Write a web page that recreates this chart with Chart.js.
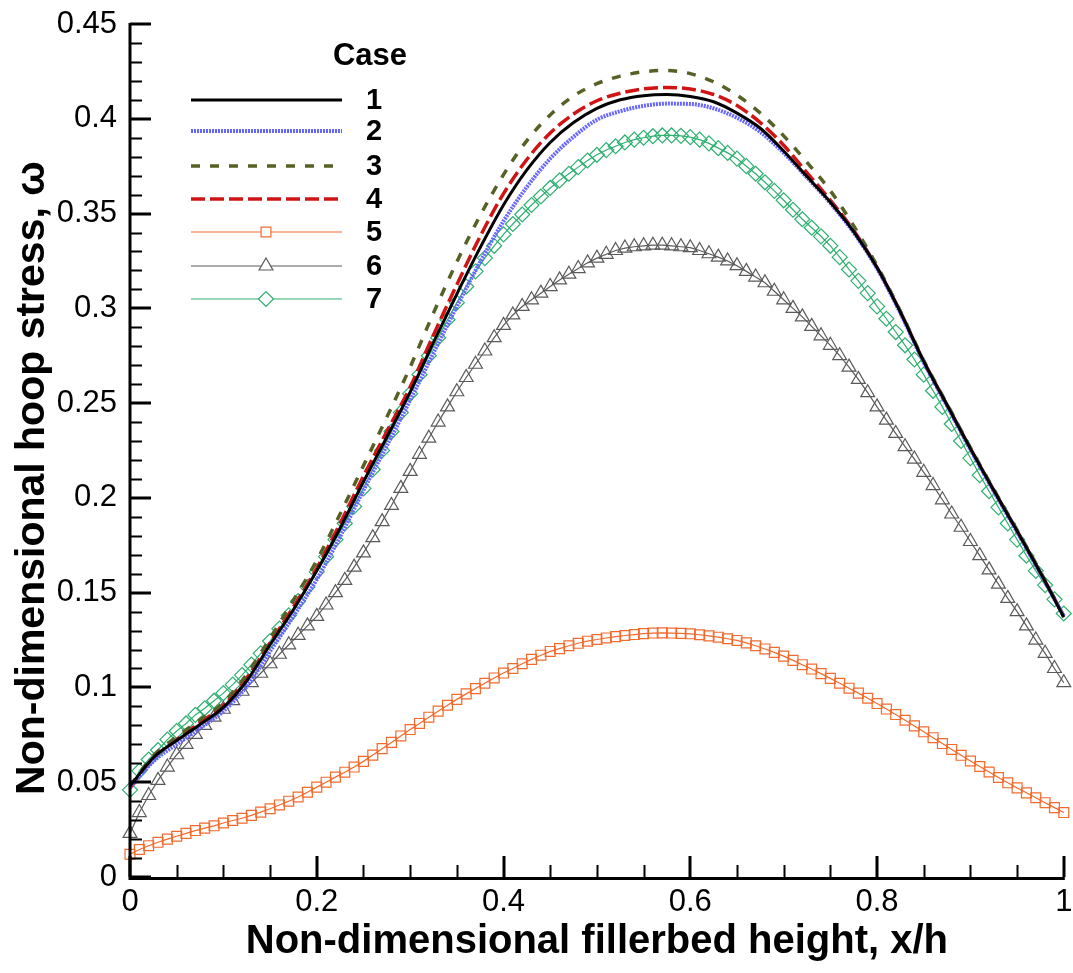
<!DOCTYPE html>
<html>
<head>
<meta charset="utf-8">
<script src="https://cdn.jsdelivr.net/npm/chart.js@4.4.0/dist/chart.umd.min.js"></script>
<style>
  html, body { margin: 0; padding: 0; background: #fff; }
  #wrap { width: 1073px; height: 973px; }
</style>
</head>
<body>
<div id="wrap"><canvas id="hoopStress"></canvas></div>
<script>
// x/h stations for the plain line cases
const xLine = [0, 0.025, 0.05, 0.075, 0.1, 0.125, 0.15, 0.175, 0.2, 0.225, 0.25, 0.275, 0.3, 0.325, 0.35, 0.375, 0.4, 0.425, 0.45, 0.475, 0.5,
  0.525, 0.55, 0.575, 0.6, 0.625, 0.65, 0.675, 0.7, 0.725, 0.75, 0.775, 0.8, 0.825, 0.85, 0.875, 0.9, 0.925, 0.95, 0.975, 1];

// x/h stations for the cases drawn with symbols
const xMark = [0, 0.01, 0.02, 0.03, 0.04, 0.05, 0.06, 0.07, 0.08, 0.09, 0.1, 0.11, 0.12, 0.13, 0.14, 0.15, 0.16, 0.17, 0.18, 0.19,
  0.2, 0.21, 0.22, 0.23, 0.24, 0.25, 0.26, 0.27, 0.28, 0.29, 0.3, 0.31, 0.32, 0.33, 0.34, 0.35, 0.36, 0.37, 0.38, 0.39,
  0.4, 0.41, 0.42, 0.43, 0.44, 0.45, 0.46, 0.47, 0.48, 0.49, 0.5, 0.51, 0.52, 0.53, 0.54, 0.55, 0.56, 0.57, 0.58, 0.59,
  0.6, 0.61, 0.62, 0.63, 0.64, 0.65, 0.66, 0.67, 0.68, 0.69, 0.7, 0.71, 0.72, 0.73, 0.74, 0.75, 0.76, 0.77, 0.78, 0.79,
  0.8, 0.81, 0.82, 0.83, 0.84, 0.85, 0.86, 0.87, 0.88, 0.89, 0.9, 0.91, 0.92, 0.93, 0.94, 0.95, 0.96, 0.97, 0.98, 0.99, 1];

const case1 = [0.048, 0.063, 0.072, 0.0805, 0.0895, 0.1035, 0.1225, 0.141, 0.1615, 0.184, 0.2085, 0.232, 0.2558, 0.282, 0.3075, 0.332,
  0.3545, 0.373, 0.3875, 0.398, 0.4055, 0.410, 0.4122, 0.4128, 0.4118, 0.409, 0.403, 0.395, 0.383, 0.3695, 0.356, 0.3405,
  0.3215, 0.298, 0.272, 0.249, 0.226, 0.204, 0.1825, 0.1605, 0.137];

const case2 = [0.047, 0.061, 0.070, 0.0785, 0.0875, 0.1005, 0.119, 0.1375, 0.157, 0.1795, 0.204, 0.2275, 0.2515, 0.2765, 0.301, 0.3245,
  0.346, 0.364, 0.379, 0.3905, 0.3995, 0.404, 0.4068, 0.408, 0.4078, 0.4055, 0.4005, 0.393, 0.382, 0.369, 0.3555, 0.340,
  0.321, 0.2975, 0.2715, 0.2485, 0.2255, 0.2035, 0.182, 0.160, 0.1375];

const case3 = [0.048, 0.064, 0.074, 0.083, 0.092, 0.107, 0.126, 0.146, 0.167, 0.1915, 0.217, 0.2425, 0.269, 0.2975, 0.3245, 0.349,
  0.3705, 0.3885, 0.402, 0.412, 0.4185, 0.4225, 0.4248, 0.4255, 0.4238, 0.4195, 0.4125, 0.403, 0.391, 0.377, 0.362, 0.3435,
  0.3225, 0.2985, 0.2725, 0.2495, 0.2265, 0.2045, 0.183, 0.161, 0.1375];

const case4 = [0.047, 0.0625, 0.0725, 0.0815, 0.0905, 0.105, 0.1235, 0.1425, 0.163, 0.1865, 0.2115, 0.235, 0.2585, 0.286, 0.3125, 0.338,
  0.3605, 0.3785, 0.3925, 0.4025, 0.4095, 0.4135, 0.4158, 0.4165, 0.4157, 0.4128, 0.407, 0.398, 0.386, 0.3715, 0.357, 0.341,
  0.3215, 0.298, 0.272, 0.249, 0.226, 0.204, 0.1825, 0.1605, 0.1375];

const case5 = [0.012, 0.0145, 0.0165, 0.0183, 0.020, 0.0215, 0.023, 0.0245, 0.0258, 0.027, 0.0285, 0.0298, 0.031, 0.0325, 0.0342,
  0.036, 0.038, 0.040, 0.0422, 0.0447, 0.0474, 0.050, 0.0527, 0.0553, 0.058, 0.061, 0.0643, 0.0677, 0.071, 0.0744,
  0.0778, 0.081, 0.0843, 0.0875, 0.0906, 0.0937, 0.0966, 0.0994, 0.1022, 0.105, 0.1076, 0.110, 0.1125, 0.1148, 0.117,
  0.119, 0.1205, 0.122, 0.1233, 0.1244, 0.1253, 0.1261, 0.1268, 0.1274, 0.1279, 0.1284, 0.1287, 0.1288, 0.1287, 0.1285,
  0.1283, 0.1278, 0.1272, 0.1265, 0.1257, 0.1248, 0.1235, 0.122, 0.1203, 0.1185, 0.1165, 0.1143, 0.112, 0.1097, 0.1073,
  0.1048, 0.1022, 0.0996, 0.097, 0.0943, 0.0915, 0.0886, 0.0857, 0.0827, 0.0797, 0.0766, 0.0735, 0.0704, 0.0673, 0.0642,
  0.0612, 0.0583, 0.0554, 0.0525, 0.0497, 0.047, 0.0444, 0.0418, 0.0392, 0.0366, 0.034];

const case6 = [0.023, 0.034, 0.043, 0.051, 0.058, 0.0645, 0.070, 0.0752, 0.080, 0.0843, 0.0885, 0.093, 0.098, 0.1025, 0.1075,
  0.1125, 0.1175, 0.1225, 0.1275, 0.1325, 0.1375, 0.1435, 0.150, 0.1565, 0.1635, 0.171, 0.179, 0.1875, 0.196, 0.205,
  0.214, 0.223, 0.2315, 0.240, 0.248, 0.256, 0.2635, 0.2705, 0.2775, 0.2845, 0.291, 0.2965, 0.301, 0.3045, 0.308,
  0.3115, 0.315, 0.318, 0.321, 0.324, 0.3265, 0.3285, 0.3305, 0.3318, 0.3325, 0.333, 0.3333, 0.3333, 0.333, 0.3325,
  0.332, 0.3305, 0.3288, 0.327, 0.325, 0.3225, 0.3195, 0.3165, 0.3135, 0.309, 0.3045, 0.300, 0.2955, 0.2905, 0.2855,
  0.2805, 0.275, 0.269, 0.2625, 0.2555, 0.248, 0.241, 0.234, 0.227, 0.2205, 0.2135, 0.2065, 0.199, 0.1915, 0.1845,
  0.177, 0.1695, 0.162, 0.1545, 0.147, 0.140, 0.1325, 0.125, 0.118, 0.110, 0.1025];

const case7 = [0.046, 0.056, 0.062, 0.067, 0.0725, 0.077, 0.081, 0.0855, 0.089, 0.093, 0.097, 0.1015, 0.1065, 0.112, 0.118,
  0.1245, 0.131, 0.138, 0.1455, 0.153, 0.161, 0.169, 0.178, 0.1865, 0.1955, 0.205, 0.215, 0.225, 0.235, 0.245,
  0.255, 0.265, 0.275, 0.2845, 0.294, 0.303, 0.3115, 0.3195, 0.3265, 0.333, 0.339, 0.3445, 0.3495, 0.3545, 0.359,
  0.3635, 0.3675, 0.371, 0.3745, 0.378, 0.381, 0.3835, 0.3855, 0.3875, 0.389, 0.390, 0.3908, 0.3912, 0.3912, 0.391,
  0.3903, 0.389, 0.387, 0.3845, 0.382, 0.379, 0.375, 0.371, 0.3665, 0.362, 0.357, 0.352, 0.347, 0.3425, 0.338,
  0.333, 0.327, 0.3205, 0.3145, 0.308, 0.301, 0.2945, 0.2875, 0.2805, 0.273, 0.265, 0.2565, 0.248, 0.239, 0.230,
  0.221, 0.212, 0.2035, 0.195, 0.1865, 0.178, 0.1695, 0.1615, 0.154, 0.1465, 0.139];

const caseLabels = ["1", "2", "3", "4", "5", "6", "7"];

const xTickValues = [0, 0.2, 0.4, 0.6, 0.8, 1];
const xTickLabels = ["0", "0.2", "0.4", "0.6", "0.8", "1"];
const yTickValues = [0, 0.05, 0.1, 0.15, 0.2, 0.25, 0.3, 0.35, 0.4, 0.45];
const yTickLabels = ["0", "0.05", "0.1", "0.15", "0.2", "0.25", "0.3", "0.35", "0.4", "0.45"];

const FONT = "'Liberation Sans', Arial, Helvetica, sans-serif";
const Y_TITLE = "Non-dimensional hoop stress, ω";

function points(xs, ys) {
  return xs.map((x, i) => ({ x: x, y: ys[i] }));
}

function steps(from, to, step, skipEvery) {
  const out = [];
  const n = Math.round((to - from) / step);
  for (let i = 0; i <= n; i++) {
    if (i % skipEvery !== 0) out.push(from + i * step);
  }
  return out;
}

const xMinor = steps(0, 1, 0.05, 4);
const yMinor = steps(0, 0.45, 0.01, 5);

function lineSet(label, xs, ys, color, width, dash) {
  return {
    label: label,
    data: points(xs, ys),
    showLine: true,
    borderColor: color,
    borderWidth: width,
    borderDash: dash,
    pointRadius: 0,
    cubicInterpolationMode: "monotone",
    clip: false
  };
}

function markSet(label, xs, ys, color, style, radius) {
  return {
    label: label,
    data: points(xs, ys),
    showLine: true,
    borderColor: color,
    borderWidth: 1.2,
    borderDash: [],
    pointStyle: style,
    pointRadius: radius,
    pointBorderWidth: 1.2,
    pointBorderColor: color,
    pointBackgroundColor: "rgba(0,0,0,0)",
    tension: 0,
    clip: false
  };
}

// keep the plot frame where the layout padding puts it
function noLabelPadding(scale) {
  scale.paddingTop = 0;
  scale.paddingBottom = 0;
  scale.paddingLeft = 0;
  scale.paddingRight = 0;
}

// inward tick marks, the two axis lines and the rotated y title
const axisFrame = {
  id: "axisFrame",
  afterDatasetsDraw(chart) {
    const { ctx, chartArea: a, scales: { x, y } } = chart;
    ctx.save();
    ctx.strokeStyle = "#000";
    ctx.lineCap = "butt";

    ctx.lineWidth = 2;
    ctx.beginPath();
    xMinor.forEach((v) => {
      const px = Math.round(x.getPixelForValue(v)) + 0.5;
      ctx.moveTo(px, a.bottom);
      ctx.lineTo(px, a.bottom - 12);
    });
    yMinor.forEach((v) => {
      const py = Math.round(y.getPixelForValue(v)) + 0.5;
      ctx.moveTo(a.left, py);
      ctx.lineTo(a.left + 12, py);
    });
    ctx.stroke();

    ctx.lineWidth = 3;
    ctx.beginPath();
    xTickValues.forEach((v) => {
      const px = Math.round(x.getPixelForValue(v));
      ctx.moveTo(px, a.bottom);
      ctx.lineTo(px, a.bottom - 21);
    });
    yTickValues.forEach((v) => {
      const py = Math.round(y.getPixelForValue(v));
      ctx.moveTo(a.left, py);
      ctx.lineTo(a.left + 21, py);
    });
    ctx.stroke();

    ctx.beginPath();
    ctx.moveTo(a.left, a.top - 1);
    ctx.lineTo(a.left, a.bottom + 1.5);
    ctx.lineTo(a.right + 1, a.bottom + 1.5);
    ctx.stroke();

    ctx.translate(33, 478);
    ctx.rotate(-Math.PI / 2);
    ctx.fillStyle = "#000";
    ctx.textAlign = "center";
    ctx.textBaseline = "middle";
    ctx.font = "bold 41px " + FONT;
    ctx.fillText(Y_TITLE, 0, 0);
    ctx.restore();
  }
};

// "Case" key in the upper left of the plot
const legendRows = [100, 131, 166, 199, 232, 266, 299];
const caseKey = {
  id: "caseKey",
  afterDraw(chart) {
    const ctx = chart.ctx;
    ctx.save();
    ctx.fillStyle = "#000";
    ctx.textAlign = "center";
    ctx.textBaseline = "middle";
    ctx.font = "bold 31px " + FONT;
    ctx.fillText("Case", 370, 56);

    chart.data.datasets.forEach((ds, i) => {
      const ly = legendRows[i];
      ctx.strokeStyle = ds.borderColor;
      ctx.lineWidth = ds.borderWidth;
      ctx.setLineDash(ds.borderDash || []);
      ctx.beginPath();
      ctx.moveTo(191, ly);
      ctx.lineTo(342, ly);
      ctx.stroke();
      ctx.setLineDash([]);
      if (ds.pointRadius > 0) {
        ctx.fillStyle = "#fff";
        ctx.lineWidth = ds.pointBorderWidth;
        Chart.helpers.drawPoint(ctx, {
          pointStyle: ds.pointStyle,
          radius: ds.pointRadius,
          borderWidth: ds.pointBorderWidth,
          rotation: 0
        }, 266, ly);
      }
      ctx.fillStyle = "#000";
      ctx.font = "bold 29px " + FONT;
      ctx.fillText(ds.label, 374, ly + 1);
    });
    ctx.restore();
  }
};

new Chart(document.getElementById("hoopStress"), {
  type: "scatter",
  data: {
    datasets: [
      lineSet(caseLabels[0], xLine, case1, "#000000", 3, []),
      lineSet(caseLabels[1], xLine, case2, "#6666ff", 4, [2, 1]),
      lineSet(caseLabels[2], xLine, case3, "#566126", 3.5, [9, 10]),
      lineSet(caseLabels[3], xLine, case4, "#d01414", 3.5, [14, 5]),
      markSet(caseLabels[4], xMark, case5, "#f26a2c", "rect", 7),
      markSet(caseLabels[5], xMark, case6, "#5a5a5a", "triangle", 8),
      markSet(caseLabels[6], xMark, case7, "#2eb070", "rectRot", 7.5)
    ]
  },
  options: {
    responsive: true,
    maintainAspectRatio: false,
    devicePixelRatio: 1,
    animation: false,
    events: [],
    layout: { padding: { top: 24, right: 7, left: 0, bottom: 0 } },
    plugins: {
      legend: { display: false },
      tooltip: { enabled: false }
    },
    scales: {
      x: {
        type: "linear",
        min: 0,
        max: 1,
        afterBuildTicks: (scale) => { scale.ticks = xTickValues.map((v) => ({ value: v })); },
        afterFit: (scale) => { scale.height = 96; noLabelPadding(scale); },
        grid: { display: false, drawTicks: false },
        border: { display: false },
        ticks: {
          padding: 7,
          color: "#000",
          font: { family: FONT, size: 31 },
          maxRotation: 0,
          callback: (value, index) => xTickLabels[index]
        },
        title: {
          display: true,
          text: "Non-dimensional fillerbed height, x/h",
          color: "#000",
          font: { family: FONT, size: 40, weight: "bold" },
          padding: { top: 0, bottom: 7 }
        }
      },
      y: {
        type: "linear",
        min: 0,
        max: 0.45,
        afterBuildTicks: (scale) => { scale.ticks = yTickValues.map((v) => ({ value: v })); },
        afterFit: (scale) => { scale.width = 130; noLabelPadding(scale); },
        grid: { display: false, drawTicks: false },
        border: { display: false },
        ticks: {
          padding: 13,
          color: "#000",
          font: { family: FONT, size: 31 },
          callback: (value, index) => yTickLabels[index]
        },
        title: { display: false }
      }
    }
  },
  plugins: [axisFrame, caseKey]
});
</script>
</body>
</html>
